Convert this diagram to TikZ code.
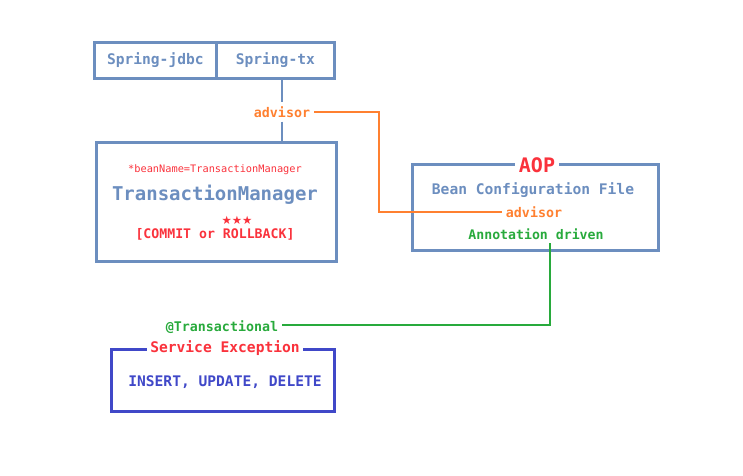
\documentclass[tikz,border=0pt]{standalone}
\usepackage{fontspec}
\setmonofont{DejaVu Sans Mono}
\newfontfamily\symfont{DejaVu Sans}
\definecolor{bgray}{RGB}{108,142,191}
\definecolor{orng}{RGB}{255,128,48}
\definecolor{redt}{RGB}{250,50,60}
\definecolor{grn}{RGB}{40,170,60}
\definecolor{dblue}{RGB}{64,72,200}
\begin{document}
\begin{tikzpicture}[x=1pt,y=-1pt,
  box/.style={draw=bgray,line width=2.7pt,inner sep=0pt},
  lbl/.style={font=\ttfamily\bfseries,inner sep=1pt},
  wbg/.style={fill=white,inner sep=3pt}]
\useasboundingbox (0,0) rectangle (743,475);
% top boxes
\node[box,minimum width=122pt,minimum height=36pt,anchor=north west,text=bgray,font=\ttfamily\bfseries\fontsize{14.6}{16}\selectfont] (jdbc) at (93,41) {Spring-jdbc};
\node[box,minimum width=118pt,minimum height=36pt,anchor=north west,text=bgray,font=\ttfamily\bfseries\fontsize{14.6}{16}\selectfont] (tx) at (215,41) {Spring-tx};
% transaction manager box
\node[box,minimum width=240pt,minimum height=119pt,anchor=north west] (tm) at (95,141) {};
\node[lbl,text=redt,font=\ttfamily\fontsize{10.3}{12}\selectfont] (bn) at (215,170) {*beanName=TransactionManager};
\node[lbl,text=bgray,font=\ttfamily\bfseries\fontsize{19}{22}\selectfont] (tmt) at (215,195) {TransactionManager};
\node[text=redt,inner sep=0pt,font=\symfont\fontsize{11.5}{12}\selectfont] (stars) at (237,220) {★★★};
\node[lbl,text=redt,font=\ttfamily\bfseries\fontsize{13.2}{15}\selectfont] (cr) at (215,234) {[COMMIT or ROLLBACK]};
% advisor label
\node[lbl,text=orng,inner sep=4pt,font=\ttfamily\bfseries\fontsize{13.3}{15}\selectfont] (adv1) at (282,112) {advisor};
\draw[bgray,line width=2.7pt] (tx.south -| adv1) -- (adv1.north);
\draw[bgray,line width=2.7pt] (adv1.south) -- (adv1 |- tm.north);
% AOP box
\node[box,minimum width=246pt,minimum height=86pt,anchor=north west] (aop) at (411,163) {};
\node[wbg,text=redt,font=\ttfamily\bfseries\fontsize{20}{22}\selectfont,inner sep=4pt] (aopt) at (537,165) {AOP};
\node[lbl,text=bgray,font=\ttfamily\bfseries\fontsize{14.6}{16}\selectfont] (bcf) at (533,190) {Bean Configuration File};
\node[lbl,text=orng,inner sep=4pt,font=\ttfamily\bfseries\fontsize{13.3}{15}\selectfont] (adv2) at (534,212) {advisor};
\node[lbl,text=grn,font=\ttfamily\bfseries\fontsize{13.2}{15}\selectfont] (ad) at (536,234) {Annotation driven};
% orange connector
\coordinate (o1) at (379,112);
\coordinate (o2) at (379,212);
\draw[orng,line width=2.7pt] (adv1.east) -- (o1) -- (o2) -- (adv2.west);
% service box
\node[draw=dblue,line width=2.7pt,inner sep=0pt,minimum width=223pt,minimum height=62pt,anchor=north west] (svc) at (110,348) {};
\node[wbg,text=redt,font=\ttfamily\bfseries\fontsize{14.6}{16}\selectfont] (se) at (225,348) {Service Exception};
\node[lbl,text=dblue,font=\ttfamily\bfseries\fontsize{14.6}{16}\selectfont] (iud) at (225,382) {INSERT, UPDATE, DELETE};
\node[lbl,text=grn,inner sep=4pt,font=\ttfamily\bfseries\fontsize{13.3}{15}\selectfont] (trn) at (222,327) {@Transactional};
% green connector
\coordinate (g0) at (550,243);
\coordinate (g1) at (550,325);
\draw[grn,line width=2.7pt] (g0) -- (g1) -- (g1 -| trn.east);
\end{tikzpicture}
\end{document}
